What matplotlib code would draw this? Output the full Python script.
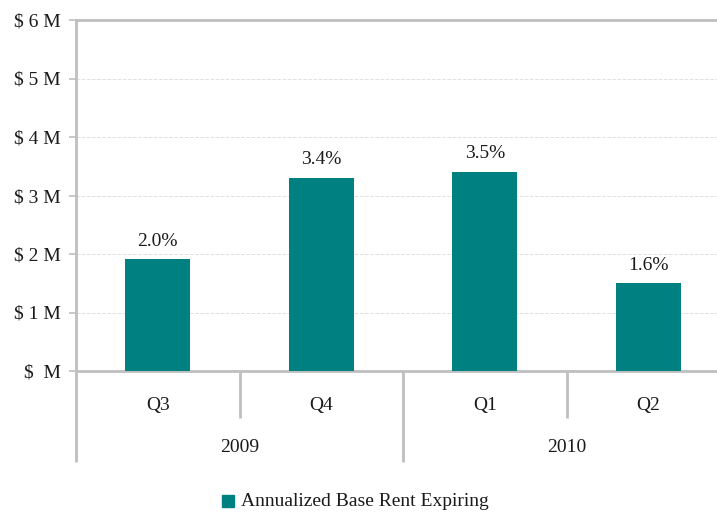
import matplotlib.pyplot as plt
import matplotlib.transforms as mtransforms
from matplotlib.patches import Rectangle

# values
quarters = ["Q3", "Q4", "Q1", "Q2"]
years = ["2009", "2010"]
rent_m = [1.91, 3.30, 3.40, 1.50]
pct_labels = ["2.0%", "3.4%", "3.5%", "1.6%"]
yticks = [0, 1, 2, 3, 4, 5, 6]
ytick_labels = ["$  M", "$ 1 M", "$ 2 M", "$ 3 M", "$ 4 M", "$ 5 M", "$ 6 M"]

teal = "#008080"
axis_grey = "#bfbfbf"
txt = "#1a1a1a"
fs = 14
plt.rcParams["font.family"] = ["Liberation Serif", "DejaVu Serif"]

fig = plt.figure(figsize=(7.17, 5.12), dpi=100)
W, H = 717, 512
ax = fig.add_axes([76 / W, (H - 371) / H, (730 - 76) / W, (371 - 20) / H])

x = list(range(len(quarters)))
bars = ax.bar(x, rent_m, width=0.40, color=teal, zorder=3)
for b, lab in zip(bars, pct_labels):
    ax.annotate(lab, (b.get_x() + b.get_width() / 2, b.get_height()),
                xytext=(0, 7), textcoords="offset points",
                ha="center", va="bottom", fontsize=fs, color=txt)

ax.set_xlim(-0.5, 3.5)
ax.set_ylim(0, 6)
ax.set_yticks(yticks)
ax.set_yticklabels(ytick_labels, fontsize=fs, color=txt)
ax.set_xticks([])
ax.tick_params(axis="y", length=5, width=1.2, color=axis_grey, pad=6)
ax.grid(axis="y", color="#e0e0e0", linestyle="--", linewidth=0.7, zorder=0)

for s in ["left", "bottom", "top"]:
    ax.spines[s].set_color(axis_grey)
    ax.spines[s].set_linewidth(2)
ax.spines["right"].set_visible(False)

# two-level category axis
trans = mtransforms.blended_transform_factory(ax.transData, ax.transAxes)
for i, q in enumerate(quarters):
    ax.text(i, -0.097, q, transform=trans, ha="center", va="center",
            fontsize=fs, color=txt)
for j, yr in enumerate(years):
    ax.text(2 * j + 0.5, -0.217, yr, transform=trans, ha="center", va="center",
            fontsize=fs, color=txt)
for xs, ybot in [(-0.5, -0.259), (0.5, -0.134), (1.5, -0.259), (2.5, -0.134)]:
    ax.plot([xs, xs], [0, ybot], transform=trans, color=axis_grey,
            linewidth=2, clip_on=False, solid_capstyle="butt")

# legend
fig.patches.append(Rectangle((222 / W, (H - 507) / H), 12 / W, 12 / H,
                             transform=fig.transFigure, color=teal))
fig.text(241 / W, (H - 501) / H, "Annualized Base Rent Expiring",
         ha="left", va="center", fontsize=fs, color=txt)

fig.savefig("out.png", dpi=100)
